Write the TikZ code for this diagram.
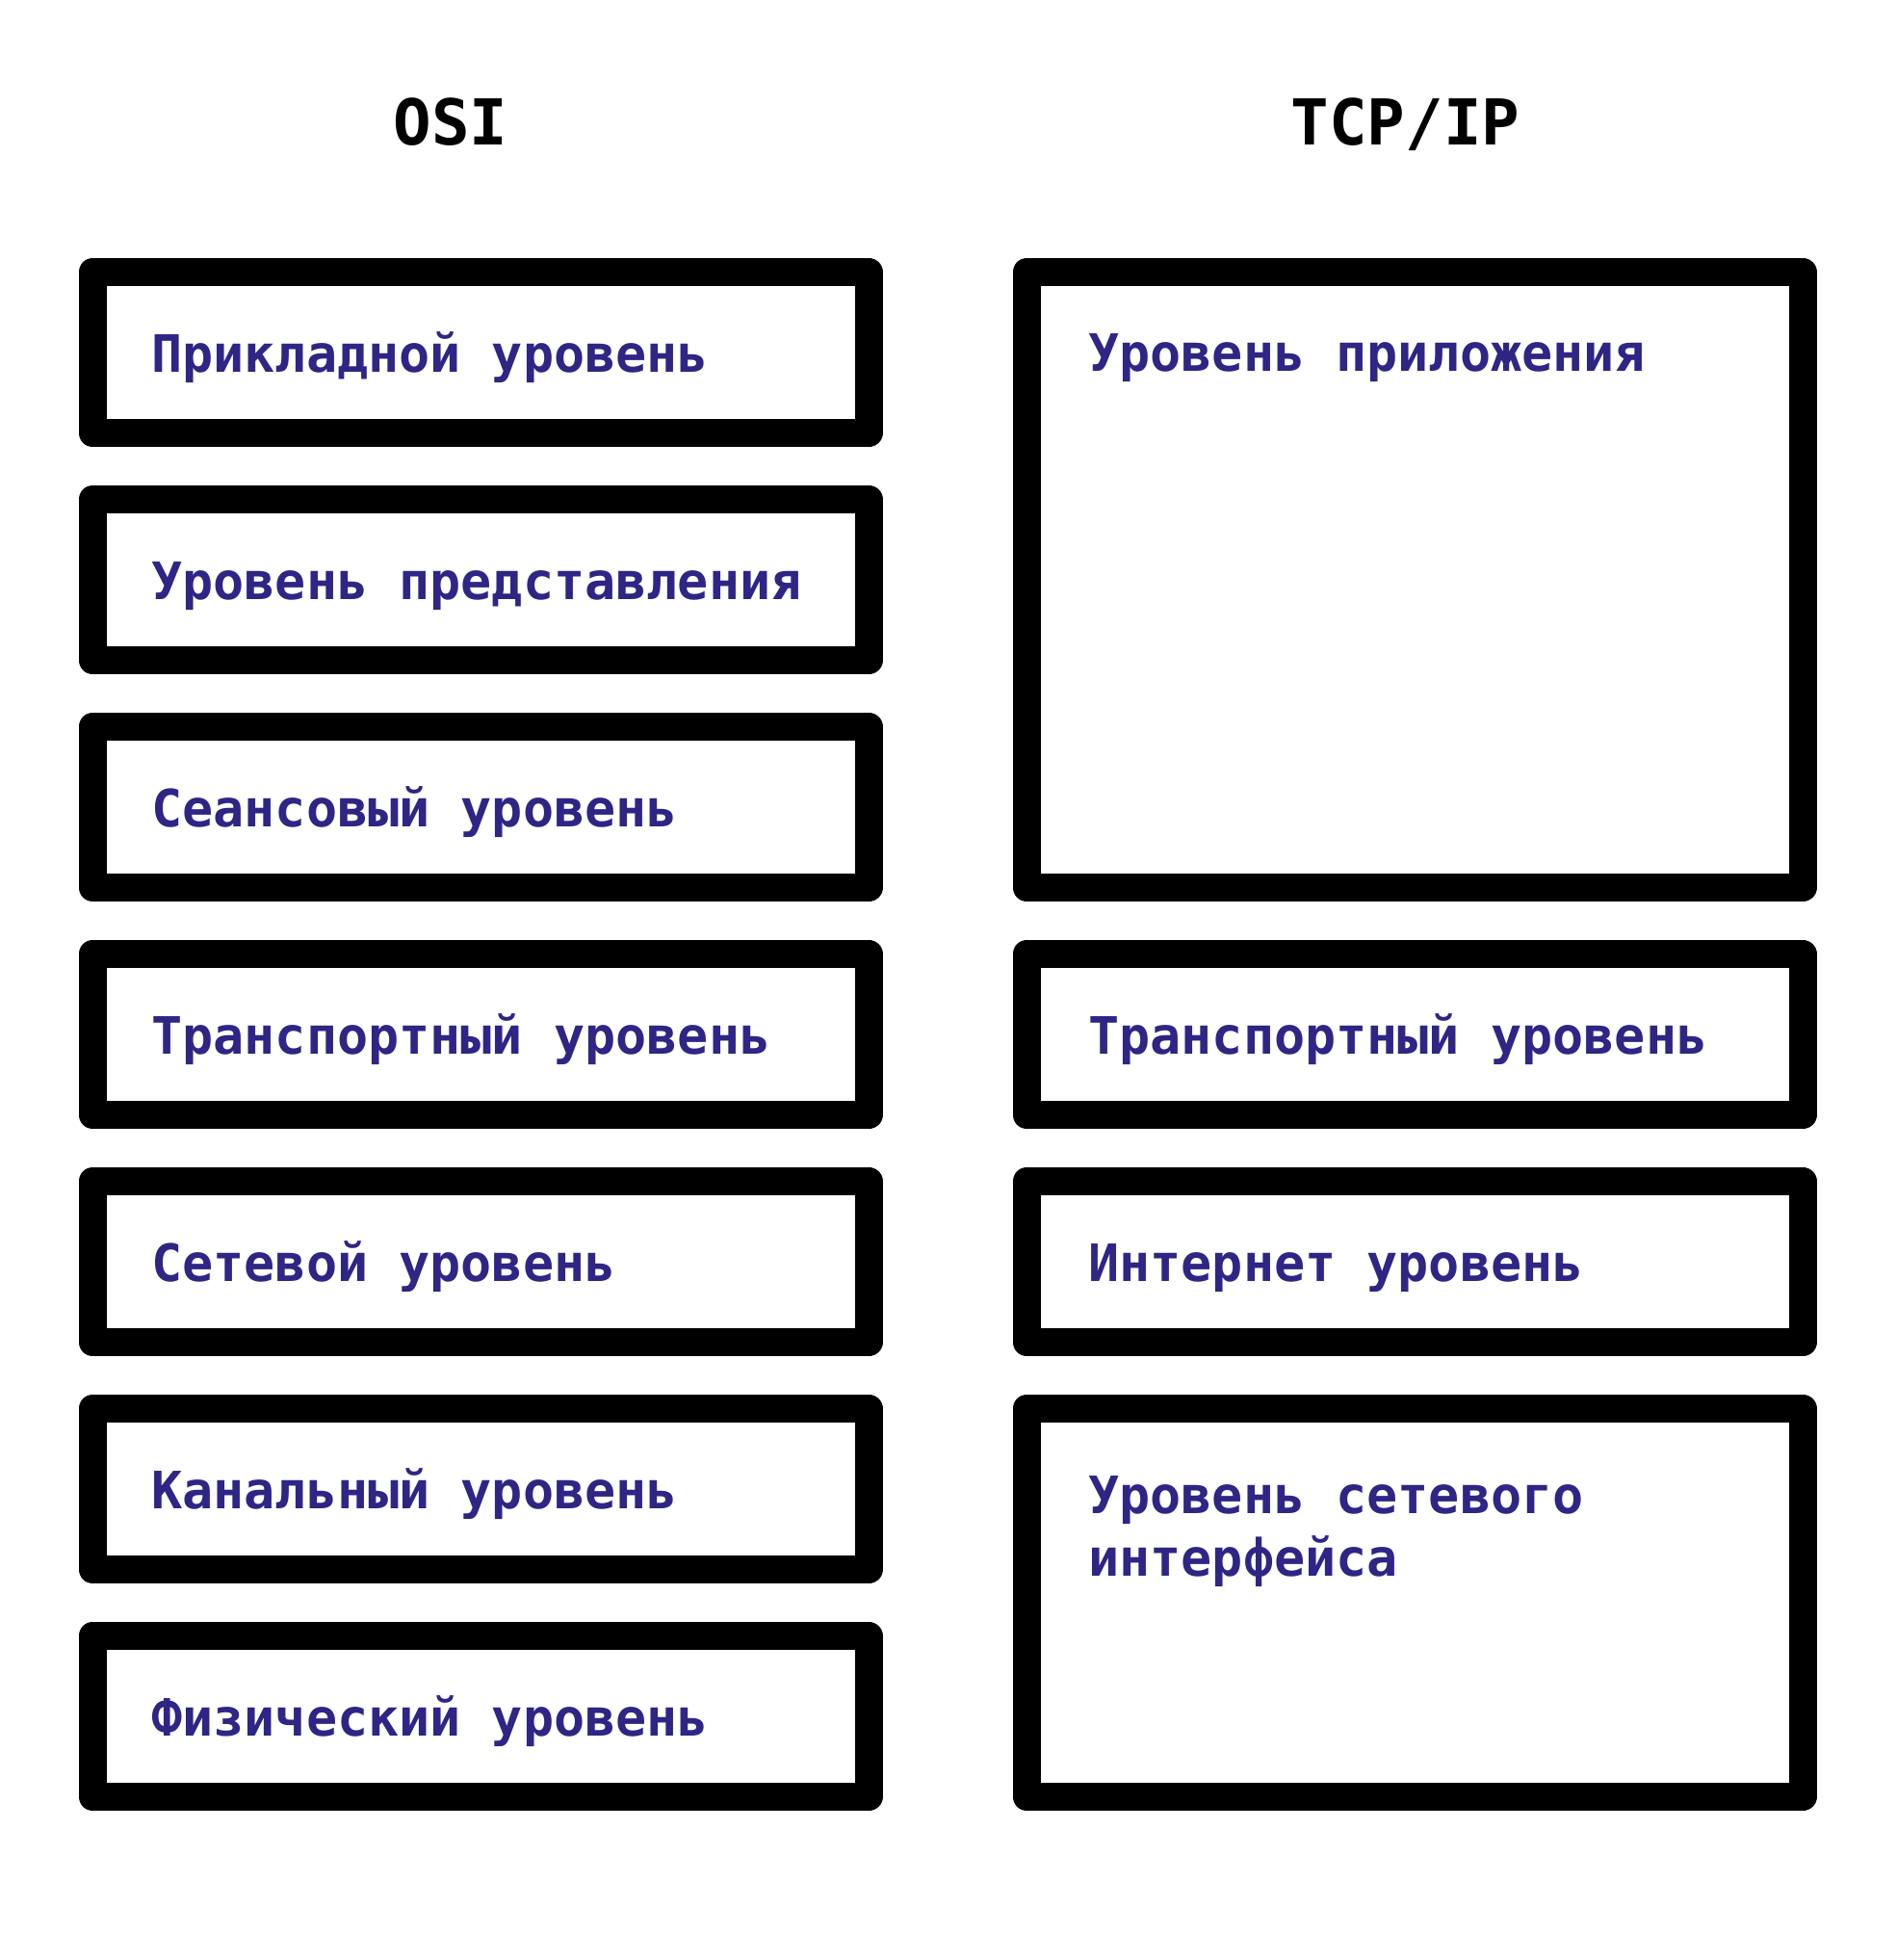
\documentclass[tikz,border=0pt]{standalone}
\usepackage{fontspec}
\setmonofont{DejaVu Sans Mono}
\usetikzlibrary{positioning}
\definecolor{layerblue}{RGB}{46,37,133}

\begin{document}
\begin{tikzpicture}[
	layer/.style={draw, line width=0.29cm, line join=round, minimum width=8.06cm, minimum height=1.67cm, inner sep=0pt},
	layertext/.style={font=\ttfamily\bfseries\fontsize{15.2}{18.4}\selectfont, text=layerblue, inner sep=0pt, anchor=base west, align=left},
	modeltitle/.style={font=\ttfamily\bfseries\fontsize{18.7}{22}\selectfont, inner sep=0pt, anchor=base}
]
	\useasboundingbox (0,0) rectangle (19.7,-20.35);

	\node[modeltitle] (osi) at (4.68,-1.507) {OSI};
	\node[modeltitle] (tcpip) at (14.595,-1.507) {TCP/IP};

	% OSI
	\node[layer] (osiApp) at (4.99,-3.66) {};
	\node[layer] (osiPres) at (4.99,-6.02) {};
	\node[layer] (osiSess) at (4.99,-8.38) {};
	\node[layer] (osiTrans) at (4.99,-10.74) {};
	\node[layer] (osiNet) at (4.99,-13.10) {};
	\node[layer] (osiLink) at (4.99,-15.46) {};
	\node[layer] (osiPhys) at (4.99,-17.82) {};
	\node[layertext] (osiAppTxt) at ([xshift=0.75cm,yshift=-0.2cm]osiApp.west) {Прикладной уровень};
	\node[layertext] (osiPresTxt) at ([xshift=0.75cm,yshift=-0.2cm]osiPres.west) {Уровень представления};
	\node[layertext] (osiSessTxt) at ([xshift=0.75cm,yshift=-0.2cm]osiSess.west) {Сеансовый уровень};
	\node[layertext] (osiTransTxt) at ([xshift=0.75cm,yshift=-0.2cm]osiTrans.west) {Транспортный уровень};
	\node[layertext] (osiNetTxt) at ([xshift=0.75cm,yshift=-0.2cm]osiNet.west) {Сетевой уровень};
	\node[layertext] (osiLinkTxt) at ([xshift=0.75cm,yshift=-0.2cm]osiLink.west) {Канальный уровень};
	\node[layertext] (osiPhysTxt) at ([xshift=0.75cm,yshift=-0.2cm]osiPhys.west) {Физический уровень};

	% TCP/IP
	\node[layer, minimum height=6.39cm] (tcpApp) at (14.69,-6.02) {};
	\node[layer] (tcpTrans) at (14.69,-10.74) {};
	\node[layer] (tcpNet) at (14.69,-13.10) {};
	\node[layer, minimum height=4.03cm] (tcpLink) at (14.69,-16.64) {};
	\node[layertext] (tcpAppTxt) at ([xshift=0.78cm,yshift=-1.17cm]tcpApp.north west) {Уровень приложения};
	\node[layertext] (tcpTransTxt) at ([xshift=0.78cm,yshift=-0.2cm]tcpTrans.west) {Транспортный уровень};
	\node[layertext] (tcpNetTxt) at ([xshift=0.78cm,yshift=-0.2cm]tcpNet.west) {Интернет уровень};
	\node[layertext] (tcpLinkTxt) at ([xshift=0.78cm,yshift=-1.886cm]tcpLink.north west) {Уровень сетевого\\интерфейса};
\end{tikzpicture}
\end{document}
